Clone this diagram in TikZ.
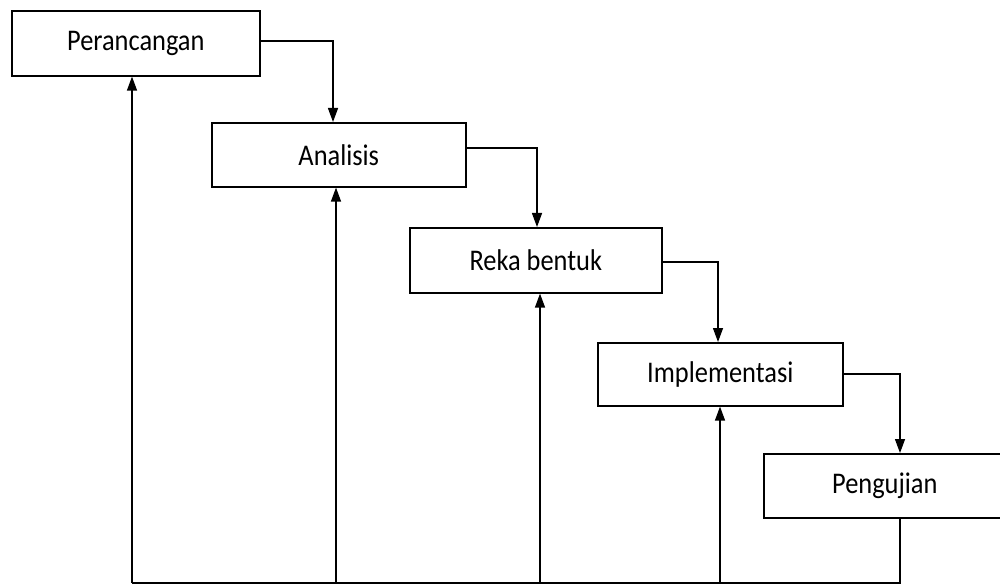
\documentclass[tikz,border=0pt]{standalone}
\usepackage{fontspec}
\setmainfont{Carlito}[FakeStretch=0.88]
\usetikzlibrary{arrows.meta}
\begin{document}
\begin{tikzpicture}[x=1pt,y=-1pt,
  stagebox/.style={draw=black,line width=1.6pt,fill=white,inner sep=0pt,
    font=\fontsize{30}{32}\selectfont},
  flow/.style={line width=1.3pt,-{Triangle[width=10pt,length=14pt]}},
  plain/.style={line width=1.3pt}]
\useasboundingbox (0,0) rectangle (1000,585);
\clip (0,0) rectangle (1000,585);
\fill[white] (0,0) rectangle (1000,585);
% boxes
\node[stagebox,minimum width=248pt,minimum height=65pt,anchor=north west] (p) at (11,10) {Perancangan};
\node[stagebox,minimum width=254pt,minimum height=64pt,anchor=north west] (a) at (211,122) {Analisis};
\node[stagebox,minimum width=252pt,minimum height=65pt,anchor=north west] (r) at (409,227) {Reka bentuk};
\node[stagebox,minimum width=245pt,minimum height=63pt,anchor=north west] (i) at (597,342) {Implementasi};
\node[stagebox,minimum width=242pt,minimum height=64pt,anchor=north west] (u) at (763,453) {Pengujian};
% bottom line corners
\coordinate (bl) at (132,583);
\coordinate (br) at (900,583);
% forward connectors
\draw[flow] (p.east |- 0,41) -| (a.north -| 333,0);
\draw[flow] (a.east |- 0,148) -| (r.north -| 537,0);
\draw[flow] (r.east |- 0,262) -| (i.north -| 718,0);
\draw[flow] (i.east |- 0,374) -| (u.north -| 900,0);
% feedback
\draw[plain] (u.south -| br) -- (br) -- (bl);
\draw[flow] (bl) -- (p.south -| bl);
\draw[flow] (bl -| 336,0) -- (a.south -| 336,0);
\draw[flow] (bl -| 540,0) -- (r.south -| 540,0);
\draw[flow] (bl -| 720,0) -- (i.south -| 720,0);
\end{tikzpicture}
\end{document}
